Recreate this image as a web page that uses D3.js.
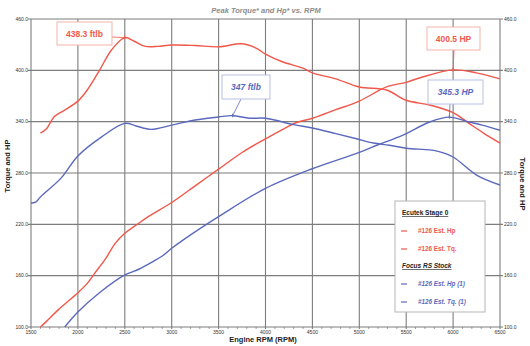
<!DOCTYPE html>
<html><head><meta charset="utf-8">
<script src="https://cdn.jsdelivr.net/npm/d3@7"></script>
<style>body{margin:0;background:#fff}svg{display:block;font-family:"Liberation Sans",Arial,sans-serif}</style>
</head><body><svg id="c" width="530" height="346"></svg>
<script>
const xTicks = [1500,2000,2500,3000,3500,4000,4500,5000,5500,6000,6500];
const yTicks = [100,160,220,280,340,400,460];

const redTq = [[1600,326.7],[1660,331],[1750,346],[1850,353],[2000,364],[2100,377],[2230,400],[2360,424],[2500,438.3],[2600,434],[2720,428],[2850,428],[3000,429.6],[3250,429],[3500,427.5],[3750,431],[3900,426],[4000,419],[4180,410],[4400,402.5],[4500,397],[4750,390],[5000,380.5],[5290,377],[5500,365],[5750,359.5],[6000,350.6],[6170,338],[6320,327],[6500,315]];
const redHp = [[1600,100],[1660,106],[1790,120],[2000,140],[2100,151],[2180,163],[2290,179],[2400,198],[2500,209.5],[2620,219],[2750,229],[3000,245.5],[3250,265],[3500,284.5],[3750,304],[4000,320],[4200,332],[4330,339],[4500,344],[4750,354],[5000,364],[5290,380.6],[5500,386],[5640,391],[6000,400.5],[6250,397],[6500,390]];
const blueTq = [[1500,245],[1550,246],[1600,252],[1820,274],[2000,300],[2250,322],[2500,338],[2620,335],[2780,331],[3000,336],[3250,342],[3500,345.5],[3650,347],[3830,344],[4000,344],[4300,336.5],[4500,332.6],[4750,326],[4970,320],[5150,315],[5320,312.5],[5500,309],[5750,307],[5850,305],[6000,298.7],[6250,277.6],[6500,266]];
const blueHp = [[1860,100],[2000,117.5],[2230,140],[2500,160.8],[2650,167.5],[2800,176.5],[2900,183],[3000,192],[3120,201.6],[3500,229],[4000,262],[4500,285],[5000,304],[5200,313],[5460,324],[5750,339.6],[5960,345.3],[6170,339.6],[6310,336],[6500,330]];

const seriesNames = ["#126 Est. Hp","#126 Est. Tq.","#126 Est. Hp (1)","#126 Est. Tq. (1)"];
const groupNames = ["Ecutek Stage 0","Focus RS Stock"];
const annotations = [
  {text:"438.3 ftlb", x:2500, y:438.3, color:"red", italic:false, bx:57, by:22, bw:55, bh:23, lx:112, ly:37},
  {text:"400.5 HP", x:6000, y:400.5, color:"red", italic:false, bx:427, by:27, bw:53, bh:23, lx:454, ly:50},
  {text:"347 ftlb", x:3650, y:347, color:"blue", italic:true, bx:222, by:75, bw:48, bh:24, lx:241, ly:99},
  {text:"345.3 HP", x:5960, y:345.3, color:"blue", italic:true, bx:428, by:80, bw:55, bh:24, lx:450, ly:104}
];

const RED = "#f0584a", BLUE = "#5a69bd";
const svg = d3.select("#c");
const x = d3.scaleLinear().domain([1500,6500]).range([31,500]);
const y = d3.scaleLinear().domain([100,460]).range([327,19]);

// grid
svg.append("g").selectAll("line").data(xTicks).join("line")
  .attr("x1",d=>x(d)).attr("x2",d=>x(d)).attr("y1",y(460)).attr("y2",y(100)+2)
  .attr("stroke","#7d7d7d").attr("stroke-width",1.1);
svg.append("g").selectAll("line").data(yTicks).join("line")
  .attr("x1",x(1500)-3).attr("x2",x(6500)+3).attr("y1",d=>y(d)).attr("y2",d=>y(d))
  .attr("stroke","#7d7d7d").attr("stroke-width",1.1);

// minor x ticks
const minor = d3.range(1500,6501,100).filter(v=>v%500!==0);
svg.append("g").selectAll("line").data(minor).join("line")
  .attr("x1",d=>x(d)).attr("x2",d=>x(d)).attr("y1",y(100)).attr("y2",y(100)+2)
  .attr("stroke","#777").attr("stroke-width",0.7);

// tick labels
svg.append("g").selectAll("text").data(xTicks).join("text")
  .attr("x",d=>x(d)).attr("y",y(100)+7).attr("text-anchor","middle")
  .attr("font-size",5).attr("fill","#333").text(d=>d);
svg.append("g").selectAll("text").data(yTicks).join("text")
  .attr("x",x(1500)-3).attr("y",d=>y(d)+1.5).attr("text-anchor","end")
  .attr("font-size",5).attr("fill","#333").text(d=>d.toFixed(1));
svg.append("g").selectAll("text").data(yTicks).join("text")
  .attr("x",x(6500)+4).attr("y",d=>y(d)+1.5).attr("text-anchor","start")
  .attr("font-size",5).attr("fill","#333").text(d=>d.toFixed(1));

// titles
svg.append("text").attr("x",266).attr("y",13).attr("text-anchor","middle")
  .attr("font-size",7.5).attr("font-weight","bold").attr("font-style","italic").attr("fill","#8c8c8c")
  .text("Peak Torque* and Hp* vs. RPM");
svg.append("text").attr("x",263).attr("y",342).attr("text-anchor","middle")
  .attr("font-size",7.5).attr("font-weight","bold").attr("fill","#222").text("Engine RPM (RPM)");
svg.append("text").attr("transform","translate(10,166) rotate(-90)").attr("text-anchor","middle")
  .attr("font-size",7.5).attr("font-weight","bold").attr("fill","#222").text("Torque and HP");
svg.append("text").attr("transform","translate(520,184) rotate(90)").attr("text-anchor","middle")
  .attr("font-size",7.5).attr("font-weight","bold").attr("fill","#222").text("Torque and HP");

// lines
const line = d3.line().x(d=>x(d[0])).y(d=>y(d[1])).curve(d3.curveCatmullRom.alpha(0.5));
[[redTq,RED],[redHp,RED],[blueTq,BLUE],[blueHp,BLUE]].forEach(([d,c])=>{
  svg.append("path").attr("d",line(d)).attr("fill","none").attr("stroke",c).attr("stroke-width",1.4);
});

// annotations
annotations.forEach(a=>{
  const c = a.color==="red"?RED:BLUE;
  const px = x(a.x), py = y(a.y);
  svg.append("line").attr("x1",px).attr("y1",py).attr("x2",a.lx).attr("y2",a.ly)
    .attr("stroke",c).attr("stroke-width",0.8);
  svg.append("line").attr("x1",px).attr("x2",px).attr("y1",py-2).attr("y2",py+1.5).attr("stroke",c).attr("stroke-width",1);
  svg.append("rect").attr("x",a.bx).attr("y",a.by).attr("width",a.bw).attr("height",a.bh)
    .attr("fill","#fff").attr("stroke",a.color==="red"?"#f4b3aa":"#b8c0e2").attr("stroke-width",1);
  svg.append("text").attr("x",a.bx+a.bw/2).attr("y",a.by+a.bh/2+3).attr("text-anchor","middle")
    .attr("font-size",8.5).attr("font-weight","bold").attr("font-style",a.italic?"italic":"normal")
    .attr("fill",c).text(a.text);
});

// legend
const lg = svg.append("g");
lg.append("rect").attr("x",395).attr("y",201).attr("width",90).attr("height",111)
  .attr("fill","#fff").attr("stroke","#b5b5b5").attr("stroke-width",1);
const rows = [
  {t:groupNames[0], head:true, italic:false, y:215},
  {t:seriesNames[0], c:RED, italic:false, y:233},
  {t:seriesNames[1], c:RED, italic:false, y:251},
  {t:groupNames[1], head:true, italic:true, y:268},
  {t:seriesNames[2], c:BLUE, italic:true, y:286},
  {t:seriesNames[3], c:BLUE, italic:true, y:304}
];
rows.forEach(r=>{
  if(r.head){
    lg.append("text").attr("x",402).attr("y",r.y).attr("font-size",6.5).attr("font-weight","bold")
      .attr("font-style",r.italic?"italic":"normal").attr("fill","#222").attr("text-decoration","underline").text(r.t);
  } else {
    lg.append("line").attr("x1",401).attr("x2",407).attr("y1",r.y-2).attr("y2",r.y-2).attr("stroke",r.c).attr("stroke-width",1.2);
    lg.append("text").attr("x",418).attr("y",r.y).attr("font-size",6.3).attr("font-weight","bold")
      .attr("font-style",r.italic?"italic":"normal").attr("fill",r.c).text(r.t);
  }
});
</script></body></html>
